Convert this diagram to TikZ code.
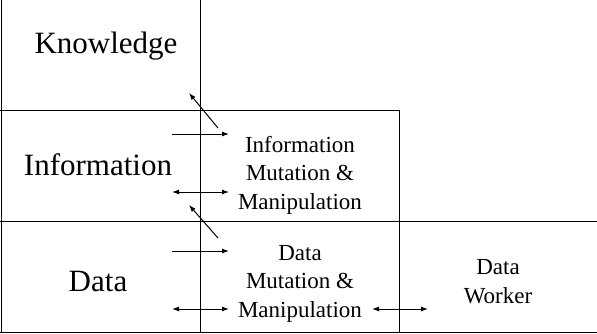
\documentclass[tikz,border=0pt]{standalone}
\usepackage{fontspec}
\setmainfont{Liberation Serif}
\usetikzlibrary{arrows.meta}
\begin{document}
\begin{tikzpicture}[x=1pt,y=-1pt, line width=1pt,
  big/.style={font=\fontsize{31}{36}\selectfont, inner sep=0pt, anchor=base},
  small/.style={font=\fontsize{23}{28.5}\selectfont, align=center, inner sep=0pt, anchor=base},
  tip/.tip={Latex[length=7pt,width=5pt]},
  arr/.style={-tip},
  darr/.style={tip-tip}]
\useasboundingbox (0,0) rectangle (597,333);
% grid lines
\draw (1,0) -- (1,332);
\draw (200,0) -- (200,332);
\draw (0,110) -- (399,110) -- (399,332);
\draw (0,221) -- (597,221);
\draw (0,332) -- (597,332);
% texts (base anchor = baseline of last line)
\node[big] (know) at (106,53) {Knowledge};
\node[big] (info) at (98,175) {Information};
\node[big] (data) at (98,291) {Data};
\node[small] (imm) at (300,209) {Information\\Mutation \&\\Manipulation};
\node[small] (dmm) at (300,317) {Data\\Mutation \&\\Manipulation};
\node[small] (dw) at (498,303) {Data\\Worker};
% arrow end points
\coordinate (a1s) at (218,128); \coordinate (a1e) at (189,93);
\coordinate (a2s) at (172,134); \coordinate (a2e) at (229,134);
\coordinate (a3s) at (172,192); \coordinate (a3e) at (229,192);
\coordinate (a4s) at (218,238); \coordinate (a4e) at (189,205);
\coordinate (a5s) at (172,251); \coordinate (a5e) at (229,251);
\coordinate (a6s) at (172,309); \coordinate (a6e) at (229,309);
\coordinate (a7s) at (372,309); \coordinate (a7e) at (428,309);
\draw[arr] (a1s) -- (a1e);
\draw[arr] (a2s) -- (a2e);
\draw[darr] (a3s) -- (a3e);
\draw[arr] (a4s) -- (a4e);
\draw[arr] (a5s) -- (a5e);
\draw[darr] (a6s) -- (a6e);
\draw[darr] (a7s) -- (a7e);
\end{tikzpicture}
\end{document}
